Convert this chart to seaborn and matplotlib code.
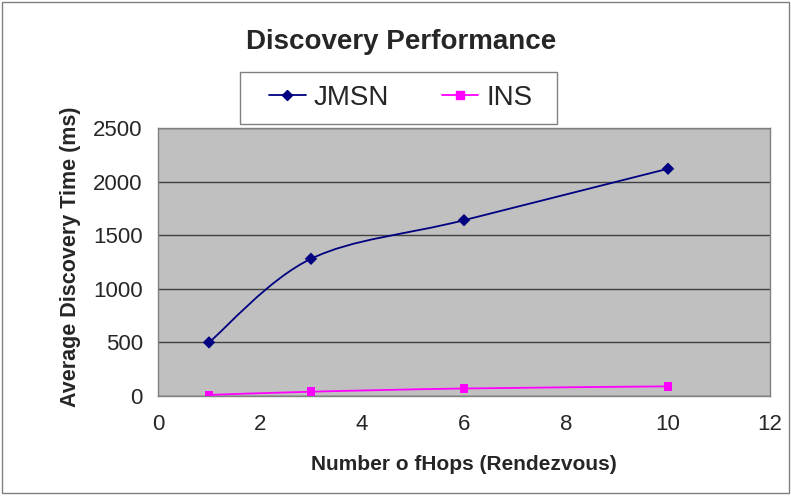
import numpy as np
import pandas as pd
import matplotlib
matplotlib.use("Agg")
import matplotlib.pyplot as plt
import seaborn as sns
from matplotlib.path import Path
from matplotlib.patches import PathPatch, Rectangle
from matplotlib.lines import Line2D

hops = [1, 3, 6, 10]
jmsn = [500, 1280, 1640, 2120]
ins = [10, 40, 70, 90]
series_names = ["JMSN", "INS"]
colors = {"JMSN": "#000080", "INS": "#FF00FF"}
markers = {"JMSN": "D", "INS": "s"}

df = pd.DataFrame({
    "hops": hops * 2,
    "time": jmsn + ins,
    "series": ["JMSN"] * len(hops) + ["INS"] * len(hops),
})

sns.set_style("white")
plt.rcParams["font.family"] = ["Liberation Sans", "DejaVu Sans"]

W, H = 791, 496
fig = plt.figure(figsize=(W / 100, H / 100), dpi=100)
ax = fig.add_axes([158 / W, 1 - 396 / H, (770 - 158) / W, (396 - 128) / H])
ax.set_facecolor("#C0C0C0")


def smooth_path(xs, ys):
    # Excel-style smoothed line: cubic Bezier segments through the data points
    xs = np.asarray(xs, float)
    ys = np.asarray(ys, float)
    n = len(xs)
    verts = [(xs[0], ys[0])]
    codes = [Path.MOVETO]
    for i in range(n - 1):
        p0 = (xs[max(i - 1, 0)], ys[max(i - 1, 0)])
        p1 = (xs[i], ys[i])
        p2 = (xs[i + 1], ys[i + 1])
        p3 = (xs[min(i + 2, n - 1)], ys[min(i + 2, n - 1)])
        c1 = (p1[0] + (p2[0] - p0[0]) / 6, p1[1] + (p2[1] - p0[1]) / 6)
        c2 = (p2[0] - (p3[0] - p1[0]) / 6, p2[1] - (p3[1] - p1[1]) / 6)
        verts += [c1, c2, p2]
        codes += [Path.CURVE4] * 3
    return Path(verts, codes)


for name, ys in (("JMSN", jmsn), ("INS", ins)):
    ax.add_patch(PathPatch(smooth_path(hops, ys), facecolor="none",
                           edgecolor=colors[name], lw=1.3, zorder=3))

sns.scatterplot(data=df, x="hops", y="time", hue="series", style="series",
                palette=colors, markers=markers, s=40, edgecolor="none",
                legend=False, ax=ax, zorder=4)

ax.set_xlim(0, 12)
ax.set_ylim(0, 2500)
ax.set_xticks(range(0, 13, 2))
ax.set_yticks(range(0, 2501, 500))
ax.yaxis.grid(True, color="#404040", lw=1)
ax.set_axisbelow(True)
for s in ax.spines.values():
    s.set_color("#808080")
    s.set_linewidth(1)
ax.tick_params(axis="both", direction="out", length=5, width=1, color="#808080",
               labelsize=16)
ax.tick_params(axis="x", pad=8)
ax.tick_params(axis="y", pad=6)
ax.set_xlabel("Number o fHops (Rendezvous)", fontsize=15, fontweight="bold")
ax.set_ylabel("Average Discovery Time (ms)", fontsize=15.5, fontweight="bold")
ax.xaxis.set_label_coords(0.5, (396 - 455) / 268)
ax.yaxis.set_label_coords((81 - 158) / 612, 0.519)

fig.text(401 / W, 1 - 42 / H, "Discovery Performance", ha="center", va="center",
         fontsize=20, fontweight="bold")

handles = [Line2D([0], [0], color=colors[n], marker=markers[n], lw=1.3,
                  markersize=6 if n == "INS" else 5) for n in series_names]
leg = fig.legend(handles, series_names, loc="center", bbox_to_anchor=(401 / W, 1 - 98 / H),
                 ncol=2, fontsize=20, frameon=False, handlelength=1.3,
                 handletextpad=0.3, columnspacing=1.9)

fig.patches.append(Rectangle((240 / W, 1 - 124 / H), (557 - 240) / W, (124 - 72) / H,
                             transform=fig.transFigure, fill=False,
                             edgecolor="#808080", lw=1))
fig.patches.append(Rectangle((0.003, 0.006), 0.994, 0.99, transform=fig.transFigure,
                             fill=False, edgecolor="#808080", lw=1))

fig.savefig("out.png", dpi=100)
